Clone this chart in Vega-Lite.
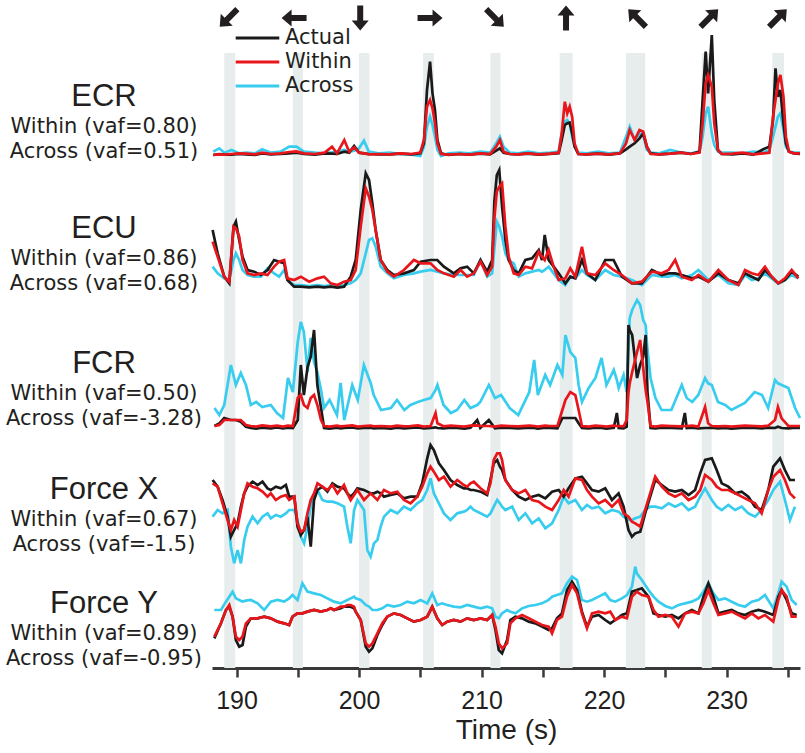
{
"$schema": "https://vega.github.io/schema/vega-lite/v6.json",
"autosize": {"type": "pad"},
"padding": {"left": 5, "top": 0, "right": 4, "bottom": 4},
"background": "white",
"config": {
  "view": {"stroke": null},
  "font": "Liberation Sans",
  "title": {"fontSize": 31, "fontWeight": "normal", "color": "#231f20", "font": "Liberation Sans", "subtitleFont": "DejaVu Sans", "subtitleFontSize": 21, "subtitleColor": "#231f20", "subtitleLineHeight": 25, "subtitlePadding": 0, "orient": "top", "anchor": "start", "frame": "group", "align": "center", "baseline": "top", "offset": 0, "dx": -108},
  "legend": {"orient": "none", "legendX": 22, "legendY": 26, "symbolType": "stroke", "symbolSize": 1900, "symbolStrokeWidth": 3, "labelFontSize": 21, "labelFont": "DejaVu Sans", "labelColor": "#231f20", "labelOffset": 4, "clipHeight": 24, "rowPadding": 0, "padding": 0}
},
"datasets": {
  "arrows": [
    {"t": 189.35, "dir": 225}, {"t": 194.7, "dir": 270}, {"t": 200.1, "dir": 180}, {"t": 205.8, "dir": 90}, {"t": 211.1, "dir": 135},
    {"t": 216.9, "dir": 0}, {"t": 222.7, "dir": 315}, {"t": 228.6, "dir": 45}, {"t": 234.2, "dir": 45}
  ],
  "bands": [
    {"t": 189.0, "t2": 189.9}, {"t": 194.6, "t2": 195.42}, {"t": 200.0, "t2": 200.85}, {"t": 205.24, "t2": 206.11}, {"t": 210.73, "t2": 211.55},
    {"t": 216.38, "t2": 217.44}, {"t": 221.78, "t2": 223.36}, {"t": 227.98, "t2": 228.79}, {"t": 233.74, "t2": 234.69}
  ],
  "sig": [
{"p":"ECR","t":188.1,"a":0.05,"w":0.05,"c":0.15},{"p":"ECR","t":188.6,"a":0.08,"w":0.07,"c":0.25},{"p":"ECR","t":189.0,"a":0.06,"w":0.06,"c":0.12},{"p":"ECR","t":189.6,"a":0.06,"w":0.08,"c":0.2},{"p":"ECR","t":190.2,"a":0.08,"w":0.1,"c":0.1},{"p":"ECR","t":190.8,"a":0.07,"w":0.09,"c":0.12},{"p":"ECR","t":191.5,"a":0.05,"w":0.07,"c":0.1},{"p":"ECR","t":192.1,"a":0.1,"w":0.12,"c":0.22},{"p":"ECR","t":192.8,"a":0.07,"w":0.08,"c":0.12},{"p":"ECR","t":193.6,"a":0.08,"w":0.1,"c":0.15},{"p":"ECR","t":194.3,"a":0.1,"w":0.14,"c":0.3},{"p":"ECR","t":194.9,"a":0.12,"w":0.16,"c":0.3},{"p":"ECR","t":195.5,"a":0.08,"w":0.1,"c":0.15},{"p":"ECR","t":196.4,"a":0.06,"w":0.08,"c":0.12},{"p":"ECR","t":197.2,"a":0.1,"w":0.12,"c":0.1},{"p":"ECR","t":197.8,"a":0.09,"w":0.3,"c":0.13},{"p":"ECR","t":198.2,"a":0.08,"w":0.1,"c":0.15},{"p":"ECR","t":198.8,"a":0.15,"w":0.5,"c":0.2},{"p":"ECR","t":199.2,"a":0.12,"w":0.15,"c":0.15},{"p":"ECR","t":199.6,"a":0.32,"w":0.28,"c":0.18},{"p":"ECR","t":200.0,"a":0.12,"w":0.12,"c":0.25},{"p":"ECR","t":200.4,"a":0.1,"w":0.1,"c":0.48},{"p":"ECR","t":200.8,"a":0.08,"w":0.07,"c":0.15},{"p":"ECR","t":201.6,"a":0.07,"w":0.08,"c":0.1},{"p":"ECR","t":202.5,"a":0.07,"w":0.07,"c":0.12},{"p":"ECR","t":203.4,"a":0.09,"w":0.1,"c":0.08},{"p":"ECR","t":204.3,"a":0.07,"w":0.08,"c":0.06},{"p":"ECR","t":205.0,"a":0.1,"w":0.12,"c":0.02},{"p":"ECR","t":205.3,"a":0.4,"w":0.5,"c":0.3},{"p":"ECR","t":205.55,"a":2.0,"w":1.5,"c":0.9},{"p":"ECR","t":205.8,"a":2.85,"w":1.7,"c":1.2},{"p":"ECR","t":206.0,"a":1.9,"w":1.45,"c":0.95},{"p":"ECR","t":206.2,"a":1.4,"w":1.0,"c":0.6},{"p":"ECR","t":206.4,"a":0.5,"w":0.4,"c":0.2},{"p":"ECR","t":206.7,"a":0.1,"w":0.08,"c":0.02},{"p":"ECR","t":207.3,"a":0.05,"w":0.06,"c":0.1},{"p":"ECR","t":208.2,"a":0.08,"w":0.08,"c":0.12},{"p":"ECR","t":209.0,"a":0.06,"w":0.06,"c":0.1},{"p":"ECR","t":209.9,"a":0.09,"w":0.1,"c":0.15},{"p":"ECR","t":210.7,"a":0.07,"w":0.08,"c":0.12},{"p":"ECR","t":211.2,"a":0.18,"w":0.3,"c":0.4},{"p":"ECR","t":211.5,"a":0.25,"w":0.5,"c":0.6},{"p":"ECR","t":211.8,"a":0.12,"w":0.15,"c":0.3},{"p":"ECR","t":212.3,"a":0.08,"w":0.08,"c":0.12},{"p":"ECR","t":213.0,"a":0.07,"w":0.07,"c":0.1},{"p":"ECR","t":213.8,"a":0.09,"w":0.1,"c":0.15},{"p":"ECR","t":214.7,"a":0.06,"w":0.07,"c":0.1},{"p":"ECR","t":215.6,"a":0.08,"w":0.09,"c":0.12},{"p":"ECR","t":216.3,"a":0.1,"w":0.12,"c":0.15},{"p":"ECR","t":216.55,"a":0.5,"w":0.7,"c":0.7},{"p":"ECR","t":216.8,"a":0.95,"w":1.65,"c":1.05},{"p":"ECR","t":217.0,"a":1.0,"w":1.3,"c":1.1},{"p":"ECR","t":217.2,"a":1.02,"w":1.5,"c":1.0},{"p":"ECR","t":217.4,"a":0.7,"w":1.2,"c":0.6},{"p":"ECR","t":217.6,"a":0.3,"w":0.4,"c":0.3},{"p":"ECR","t":217.9,"a":0.08,"w":0.08,"c":0.12},{"p":"ECR","t":218.6,"a":0.07,"w":0.07,"c":0.1},{"p":"ECR","t":219.5,"a":0.09,"w":0.09,"c":0.15},{"p":"ECR","t":220.4,"a":0.06,"w":0.07,"c":0.1},{"p":"ECR","t":221.3,"a":0.1,"w":0.1,"c":0.12},{"p":"ECR","t":221.8,"a":0.22,"w":0.4,"c":0.6},{"p":"ECR","t":222.1,"a":0.3,"w":0.8,"c":0.9},{"p":"ECR","t":222.5,"a":0.4,"w":0.5,"c":0.5},{"p":"ECR","t":222.9,"a":0.55,"w":0.8,"c":0.7},{"p":"ECR","t":223.2,"a":0.7,"w":0.75,"c":0.65},{"p":"ECR","t":223.5,"a":0.3,"w":0.3,"c":0.2},{"p":"ECR","t":223.8,"a":0.1,"w":0.08,"c":0.12},{"p":"ECR","t":224.5,"a":0.07,"w":0.07,"c":0.1},{"p":"ECR","t":225.4,"a":0.09,"w":0.09,"c":0.2},{"p":"ECR","t":226.3,"a":0.12,"w":0.12,"c":0.12},{"p":"ECR","t":227.1,"a":0.08,"w":0.08,"c":0.1},{"p":"ECR","t":227.8,"a":0.15,"w":0.12,"c":0.15},{"p":"ECR","t":228.05,"a":1.7,"w":1.0,"c":0.6},{"p":"ECR","t":228.3,"a":3.15,"w":2.2,"c":1.3},{"p":"ECR","t":228.5,"a":1.9,"w":2.45,"c":1.5},{"p":"ECR","t":228.8,"a":3.65,"w":2.1,"c":0.7},{"p":"ECR","t":229.0,"a":1.7,"w":1.0,"c":0.35},{"p":"ECR","t":229.3,"a":0.2,"w":0.2,"c":0.15},{"p":"ECR","t":229.6,"a":0.08,"w":0.08,"c":0.12},{"p":"ECR","t":230.5,"a":0.07,"w":0.09,"c":0.12},{"p":"ECR","t":231.3,"a":0.1,"w":0.12,"c":0.1},{"p":"ECR","t":232.2,"a":0.06,"w":0.07,"c":0.15},{"p":"ECR","t":233.0,"a":0.22,"w":0.1,"c":0.12},{"p":"ECR","t":233.5,"a":0.3,"w":0.12,"c":0.2},{"p":"ECR","t":233.8,"a":1.1,"w":1.2,"c":0.6},{"p":"ECR","t":234.0,"a":2.65,"w":1.7,"c":0.9},{"p":"ECR","t":234.2,"a":1.8,"w":2.2,"c":1.2},{"p":"ECR","t":234.4,"a":2.0,"w":2.45,"c":1.3},{"p":"ECR","t":234.65,"a":1.0,"w":1.8,"c":0.8},{"p":"ECR","t":234.85,"a":0.4,"w":0.6,"c":0.3},{"p":"ECR","t":235.1,"a":0.15,"w":0.15,"c":0.15},{"p":"ECR","t":235.5,"a":0.1,"w":0.1,"c":0.12},{"p":"ECR","t":236.0,"a":0.08,"w":0.1,"c":0.12},
{"p":"ECU","t":188.05,"a":1.75,"w":1.4,"c":0.65},{"p":"ECU","t":188.46,"a":1.05,"w":0.95,"c":0.45},{"p":"ECU","t":189.0,"a":0.35,"w":0.35,"c":0.3},{"p":"ECU","t":189.41,"a":0.15,"w":0.2,"c":0.25},{"p":"ECU","t":189.76,"a":1.85,"w":1.85,"c":0.85},{"p":"ECU","t":189.95,"a":2.0,"w":1.8,"c":1.05},{"p":"ECU","t":190.22,"a":1.45,"w":1.55,"c":0.85},{"p":"ECU","t":190.49,"a":0.95,"w":0.85,"c":0.55},{"p":"ECU","t":190.9,"a":0.55,"w":0.45,"c":0.4},{"p":"ECU","t":191.44,"a":0.5,"w":0.4,"c":0.35},{"p":"ECU","t":191.99,"a":0.4,"w":0.45,"c":0.35},{"p":"ECU","t":192.53,"a":0.55,"w":0.4,"c":0.6},{"p":"ECU","t":193.07,"a":0.85,"w":0.65,"c":0.45},{"p":"ECU","t":193.48,"a":0.8,"w":0.8,"c":0.35},{"p":"ECU","t":193.89,"a":0.75,"w":0.85,"c":0.55},{"p":"ECU","t":194.16,"a":0.25,"w":0.3,"c":0.25},{"p":"ECU","t":194.7,"a":0.05,"w":0.25,"c":0.1},{"p":"ECU","t":195.25,"a":0.05,"w":0.35,"c":0.1},{"p":"ECU","t":195.93,"a":0.03,"w":0.2,"c":0.07},{"p":"ECU","t":196.61,"a":0.05,"w":0.3,"c":0.1},{"p":"ECU","t":197.15,"a":0.03,"w":0.35,"c":0.07},{"p":"ECU","t":197.69,"a":0.05,"w":0.15,"c":0.09},{"p":"ECU","t":198.24,"a":0.02,"w":0.1,"c":0.07},{"p":"ECU","t":198.78,"a":0.05,"w":0.2,"c":0.1},{"p":"ECU","t":199.32,"a":0.35,"w":0.25,"c":0.15},{"p":"ECU","t":199.73,"a":0.85,"w":0.55,"c":0.25},{"p":"ECU","t":200.14,"a":2.35,"w":1.85,"c":0.45},{"p":"ECU","t":200.55,"a":3.45,"w":3.0,"c":1.05},{"p":"ECU","t":200.82,"a":3.25,"w":2.75,"c":1.45},{"p":"ECU","t":201.09,"a":2.55,"w":2.35,"c":1.5},{"p":"ECU","t":201.36,"a":1.75,"w":1.75,"c":1.25},{"p":"ECU","t":201.77,"a":0.85,"w":0.85,"c":0.65},{"p":"ECU","t":202.31,"a":0.55,"w":0.5,"c":0.45},{"p":"ECU","t":202.85,"a":0.4,"w":0.35,"c":0.3},{"p":"ECU","t":203.67,"a":0.45,"w":0.55,"c":0.4},{"p":"ECU","t":204.48,"a":0.55,"w":0.85,"c":0.45},{"p":"ECU","t":205.03,"a":0.8,"w":0.75,"c":0.5},{"p":"ECU","t":205.84,"a":0.85,"w":0.75,"c":0.55},{"p":"ECU","t":206.39,"a":0.85,"w":0.55,"c":0.5},{"p":"ECU","t":206.93,"a":0.65,"w":0.45,"c":0.45},{"p":"ECU","t":207.74,"a":0.45,"w":0.35,"c":0.4},{"p":"ECU","t":208.29,"a":0.6,"w":0.55,"c":0.4},{"p":"ECU","t":208.83,"a":0.65,"w":0.35,"c":0.4},{"p":"ECU","t":209.37,"a":0.45,"w":0.45,"c":0.4},{"p":"ECU","t":209.92,"a":0.85,"w":0.8,"c":0.85},{"p":"ECU","t":210.46,"a":0.5,"w":0.4,"c":0.35},{"p":"ECU","t":210.87,"a":0.85,"w":0.65,"c":0.45},{"p":"ECU","t":211.05,"a":2.6,"w":2.1,"c":1.2},{"p":"ECU","t":211.25,"a":3.4,"w":2.9,"c":2.0},{"p":"ECU","t":211.45,"a":3.55,"w":3.05,"c":1.85},{"p":"ECU","t":211.68,"a":2.45,"w":3.15,"c":1.55},{"p":"ECU","t":211.95,"a":1.45,"w":1.85,"c":1.05},{"p":"ECU","t":212.22,"a":0.85,"w":0.95,"c":0.85},{"p":"ECU","t":212.63,"a":0.55,"w":0.45,"c":0.75},{"p":"ECU","t":213.04,"a":0.45,"w":0.4,"c":0.35},{"p":"ECU","t":213.58,"a":0.85,"w":0.65,"c":0.45},{"p":"ECU","t":214.13,"a":0.9,"w":0.6,"c":0.5},{"p":"ECU","t":214.67,"a":1.15,"w":1.1,"c":0.55},{"p":"ECU","t":214.94,"a":0.85,"w":0.95,"c":0.5},{"p":"ECU","t":215.16,"a":1.6,"w":0.85,"c":0.55},{"p":"ECU","t":215.48,"a":0.85,"w":1.15,"c":0.65},{"p":"ECU","t":215.89,"a":0.65,"w":0.65,"c":0.45},{"p":"ECU","t":216.3,"a":0.45,"w":0.25,"c":0.25},{"p":"ECU","t":216.84,"a":0.15,"w":0.3,"c":0.1},{"p":"ECU","t":217.25,"a":0.35,"w":0.6,"c":0.35},{"p":"ECU","t":217.66,"a":0.3,"w":0.35,"c":0.3},{"p":"ECU","t":218.2,"a":0.85,"w":1.25,"c":0.55},{"p":"ECU","t":218.61,"a":0.45,"w":0.45,"c":0.4},{"p":"ECU","t":219.29,"a":0.25,"w":0.4,"c":0.25},{"p":"ECU","t":220.1,"a":0.85,"w":0.75,"c":0.55},{"p":"ECU","t":220.78,"a":0.85,"w":0.55,"c":0.4},{"p":"ECU","t":221.46,"a":0.35,"w":0.4,"c":0.35},{"p":"ECU","t":222.28,"a":0.15,"w":0.15,"c":0.25},{"p":"ECU","t":223.09,"a":0.15,"w":0.2,"c":0.1},{"p":"ECU","t":223.91,"a":0.55,"w":0.5,"c":0.4},{"p":"ECU","t":224.72,"a":0.4,"w":0.45,"c":0.35},{"p":"ECU","t":225.27,"a":0.45,"w":0.55,"c":0.35},{"p":"ECU","t":225.81,"a":0.45,"w":0.85,"c":0.4},{"p":"ECU","t":226.35,"a":0.4,"w":0.35,"c":0.3},{"p":"ECU","t":227.17,"a":0.3,"w":0.25,"c":0.4},{"p":"ECU","t":227.71,"a":0.35,"w":0.4,"c":0.55},{"p":"ECU","t":228.52,"a":0.2,"w":0.2,"c":0.25},{"p":"ECU","t":229.34,"a":0.45,"w":0.55,"c":0.4},{"p":"ECU","t":230.15,"a":0.25,"w":0.25,"c":0.15},{"p":"ECU","t":230.97,"a":0.15,"w":0.1,"c":0.1},{"p":"ECU","t":231.51,"a":0.45,"w":0.55,"c":0.4},{"p":"ECU","t":232.06,"a":0.35,"w":0.45,"c":0.25},{"p":"ECU","t":232.6,"a":0.25,"w":0.4,"c":0.3},{"p":"ECU","t":233.14,"a":0.55,"w":0.65,"c":0.45},{"p":"ECU","t":233.69,"a":0.35,"w":0.35,"c":0.3},{"p":"ECU","t":234.23,"a":0.15,"w":0.15,"c":0.15},{"p":"ECU","t":234.77,"a":0.25,"w":0.3,"c":0.25},{"p":"ECU","t":235.32,"a":0.5,"w":0.55,"c":0.4},{"p":"ECU","t":235.86,"a":0.35,"w":0.3,"c":0.3},
{"p":"FCR","t":188.2,"a":0.12,"w":0.12,"c":0.66},{"p":"FCR","t":188.6,"a":0.2,"w":0.15,"c":0.45},{"p":"FCR","t":189.0,"a":0.36,"w":0.3,"c":0.75},{"p":"FCR","t":189.54,"a":0.3,"w":0.3,"c":1.95},{"p":"FCR","t":189.95,"a":0.3,"w":0.3,"c":1.35},{"p":"FCR","t":190.35,"a":0.25,"w":0.3,"c":1.71},{"p":"FCR","t":190.77,"a":0.1,"w":0.15,"c":1.35},{"p":"FCR","t":191.17,"a":0.06,"w":0.12,"c":0.75},{"p":"FCR","t":191.6,"a":0.04,"w":0.1,"c":0.84},{"p":"FCR","t":192.1,"a":0.07,"w":0.14,"c":0.69},{"p":"FCR","t":192.8,"a":0.05,"w":0.11,"c":0.75},{"p":"FCR","t":193.3,"a":0.08,"w":0.13,"c":0.51},{"p":"FCR","t":193.8,"a":0.05,"w":0.1,"c":0.36},{"p":"FCR","t":194.2,"a":0.07,"w":0.13,"c":1.56},{"p":"FCR","t":194.6,"a":0.06,"w":0.12,"c":1.14},{"p":"FCR","t":195.0,"a":0.3,"w":0.96,"c":2.64},{"p":"FCR","t":195.25,"a":1.95,"w":1.05,"c":3.24},{"p":"FCR","t":195.5,"a":1.05,"w":0.75,"c":2.94},{"p":"FCR","t":195.8,"a":1.89,"w":0.66,"c":1.74},{"p":"FCR","t":196.06,"a":2.2,"w":0.96,"c":2.76},{"p":"FCR","t":196.33,"a":3.0,"w":1.05,"c":2.04},{"p":"FCR","t":196.6,"a":1.35,"w":0.75,"c":1.74},{"p":"FCR","t":196.9,"a":0.66,"w":0.3,"c":1.2},{"p":"FCR","t":197.15,"a":0.06,"w":0.12,"c":0.66},{"p":"FCR","t":197.6,"a":0.04,"w":0.1,"c":0.9},{"p":"FCR","t":198.2,"a":0.07,"w":0.13,"c":0.45},{"p":"FCR","t":198.5,"a":0.05,"w":0.11,"c":1.41},{"p":"FCR","t":198.8,"a":0.06,"w":0.12,"c":0.3},{"p":"FCR","t":199.45,"a":0.08,"w":0.14,"c":1.35},{"p":"FCR","t":199.9,"a":0.05,"w":0.1,"c":0.9},{"p":"FCR","t":200.4,"a":0.06,"w":0.12,"c":1.95},{"p":"FCR","t":200.95,"a":0.07,"w":0.13,"c":1.41},{"p":"FCR","t":201.2,"a":0.05,"w":0.11,"c":1.05},{"p":"FCR","t":201.8,"a":0.06,"w":0.12,"c":0.6},{"p":"FCR","t":202.6,"a":0.04,"w":0.1,"c":0.66},{"p":"FCR","t":203.1,"a":0.07,"w":0.13,"c":0.9},{"p":"FCR","t":203.7,"a":0.05,"w":0.11,"c":0.6},{"p":"FCR","t":204.2,"a":0.06,"w":0.12,"c":0.75},{"p":"FCR","t":204.8,"a":0.08,"w":0.14,"c":0.84},{"p":"FCR","t":205.3,"a":0.05,"w":0.1,"c":0.9},{"p":"FCR","t":205.85,"a":0.06,"w":0.12,"c":0.96},{"p":"FCR","t":206.25,"a":0.08,"w":0.51,"c":1.2},{"p":"FCR","t":206.4,"a":0.06,"w":0.2,"c":1.35},{"p":"FCR","t":206.9,"a":0.05,"w":0.11,"c":0.75},{"p":"FCR","t":207.5,"a":0.07,"w":0.13,"c":0.51},{"p":"FCR","t":208.0,"a":0.06,"w":0.12,"c":0.6},{"p":"FCR","t":208.6,"a":0.04,"w":0.1,"c":0.9},{"p":"FCR","t":209.1,"a":0.07,"w":0.13,"c":0.66},{"p":"FCR","t":209.65,"a":0.3,"w":0.14,"c":0.75},{"p":"FCR","t":209.9,"a":0.06,"w":0.12,"c":0.84},{"p":"FCR","t":210.6,"a":0.3,"w":0.12,"c":1.35},{"p":"FCR","t":211.1,"a":0.05,"w":0.1,"c":0.96},{"p":"FCR","t":211.6,"a":0.07,"w":0.13,"c":1.05},{"p":"FCR","t":212.3,"a":0.06,"w":0.12,"c":0.66},{"p":"FCR","t":213.0,"a":0.05,"w":0.11,"c":0.45},{"p":"FCR","t":213.9,"a":0.07,"w":0.13,"c":1.14},{"p":"FCR","t":214.3,"a":0.06,"w":0.12,"c":2.1},{"p":"FCR","t":214.6,"a":0.04,"w":0.1,"c":1.05},{"p":"FCR","t":215.2,"a":0.07,"w":0.13,"c":1.65},{"p":"FCR","t":215.6,"a":0.06,"w":0.12,"c":1.35},{"p":"FCR","t":216.2,"a":0.05,"w":0.12,"c":1.95},{"p":"FCR","t":216.6,"a":0.36,"w":0.6,"c":1.65},{"p":"FCR","t":216.85,"a":0.36,"w":0.9,"c":2.85},{"p":"FCR","t":217.25,"a":0.36,"w":1.14,"c":2.34},{"p":"FCR","t":217.66,"a":0.36,"w":1.05,"c":2.16},{"p":"FCR","t":217.93,"a":0.2,"w":0.6,"c":1.35},{"p":"FCR","t":218.2,"a":0.06,"w":0.12,"c":0.84},{"p":"FCR","t":218.75,"a":0.05,"w":0.1,"c":1.26},{"p":"FCR","t":219.3,"a":0.07,"w":0.13,"c":1.56},{"p":"FCR","t":219.8,"a":0.06,"w":0.12,"c":2.16},{"p":"FCR","t":220.2,"a":0.04,"w":0.1,"c":1.35},{"p":"FCR","t":220.8,"a":0.07,"w":0.13,"c":1.8},{"p":"FCR","t":221.05,"a":0.51,"w":0.12,"c":1.5},{"p":"FCR","t":221.2,"a":0.06,"w":0.12,"c":1.26},{"p":"FCR","t":221.6,"a":0.05,"w":0.11,"c":1.65},{"p":"FCR","t":221.85,"a":0.1,"w":0.3,"c":1.14},{"p":"FCR","t":222.0,"a":3.15,"w":1.14,"c":2.5},{"p":"FCR","t":222.1,"a":3.0,"w":1.4,"c":3.36},{"p":"FCR","t":222.3,"a":2.85,"w":1.74,"c":3.6},{"p":"FCR","t":222.7,"a":1.56,"w":2.34,"c":3.9},{"p":"FCR","t":222.95,"a":1.95,"w":2.7,"c":3.75},{"p":"FCR","t":223.2,"a":2.2,"w":1.86,"c":3.3},{"p":"FCR","t":223.4,"a":2.85,"w":1.2,"c":3.15},{"p":"FCR","t":223.55,"a":1.14,"w":0.84,"c":2.4},{"p":"FCR","t":223.8,"a":0.06,"w":0.12,"c":1.56},{"p":"FCR","t":224.2,"a":0.05,"w":0.1,"c":0.96},{"p":"FCR","t":224.7,"a":0.07,"w":0.13,"c":0.6},{"p":"FCR","t":225.5,"a":0.06,"w":0.12,"c":0.6},{"p":"FCR","t":226.35,"a":0.05,"w":0.11,"c":1.35},{"p":"FCR","t":226.6,"a":0.51,"w":0.12,"c":1.1},{"p":"FCR","t":226.75,"a":0.06,"w":0.12,"c":0.96},{"p":"FCR","t":227.2,"a":0.07,"w":0.13,"c":0.84},{"p":"FCR","t":227.7,"a":0.05,"w":0.1,"c":1.05},{"p":"FCR","t":228.25,"a":0.06,"w":0.69,"c":1.56},{"p":"FCR","t":228.5,"a":0.06,"w":0.2,"c":1.4},{"p":"FCR","t":228.8,"a":0.07,"w":0.12,"c":1.35},{"p":"FCR","t":229.3,"a":0.05,"w":0.11,"c":0.84},{"p":"FCR","t":229.9,"a":0.06,"w":0.12,"c":0.75},{"p":"FCR","t":230.4,"a":0.04,"w":0.1,"c":0.6},{"p":"FCR","t":231.5,"a":0.07,"w":0.13,"c":0.81},{"p":"FCR","t":232.3,"a":0.06,"w":0.12,"c":1.14},{"p":"FCR","t":232.9,"a":0.05,"w":0.11,"c":1.05},{"p":"FCR","t":233.4,"a":0.07,"w":0.13,"c":0.66},{"p":"FCR","t":233.96,"a":0.06,"w":0.3,"c":1.5},{"p":"FCR","t":234.2,"a":0.1,"w":0.69,"c":1.4},{"p":"FCR","t":234.5,"a":0.06,"w":0.35,"c":1.35},{"p":"FCR","t":235.05,"a":0.05,"w":0.12,"c":1.26},{"p":"FCR","t":235.6,"a":0.07,"w":0.12,"c":0.66},{"p":"FCR","t":236.0,"a":0.06,"w":0.12,"c":0.36},
{"p":"FX","t":188.05,"a":1.2,"w":1.1,"c":0.1},{"p":"FX","t":188.46,"a":1.0,"w":1.0,"c":0.3},{"p":"FX","t":188.86,"a":0.6,"w":0.5,"c":0.2},{"p":"FX","t":189.27,"a":0.1,"w":0.0,"c":0.3},{"p":"FX","t":189.54,"a":-0.5,"w":-0.3,"c":-0.8},{"p":"FX","t":189.81,"a":-0.3,"w":0.0,"c":-1.3},{"p":"FX","t":190.09,"a":-0.1,"w":-0.2,"c":-0.9},{"p":"FX","t":190.36,"a":0.4,"w":0.3,"c":-1.3},{"p":"FX","t":190.63,"a":0.8,"w":0.8,"c":-0.6},{"p":"FX","t":190.9,"a":1.0,"w":1.1,"c":-0.2},{"p":"FX","t":191.31,"a":1.15,"w":1.0,"c":0.1},{"p":"FX","t":191.72,"a":1.05,"w":0.95,"c":-0.1},{"p":"FX","t":192.12,"a":1.15,"w":0.85,"c":0.1},{"p":"FX","t":192.53,"a":0.95,"w":0.7,"c":0.2},{"p":"FX","t":192.8,"a":0.9,"w":0.8,"c":0.05},{"p":"FX","t":193.21,"a":1.0,"w":0.6,"c":0.15},{"p":"FX","t":193.62,"a":0.95,"w":0.7,"c":0.1},{"p":"FX","t":194.03,"a":1.05,"w":0.75,"c":0.2},{"p":"FX","t":194.3,"a":0.7,"w":0.6,"c":0.3},{"p":"FX","t":194.72,"a":0.7,"w":0.7,"c":0.3},{"p":"FX","t":194.98,"a":-0.2,"w":-0.1,"c":0.0},{"p":"FX","t":195.25,"a":-0.45,"w":-0.35,"c":-0.5},{"p":"FX","t":195.52,"a":-0.3,"w":-0.3,"c":-0.7},{"p":"FX","t":195.79,"a":0.1,"w":0.2,"c":-0.2},{"p":"FX","t":196.06,"a":-0.8,"w":0.6,"c":0.4},{"p":"FX","t":196.33,"a":0.6,"w":0.8,"c":0.7},{"p":"FX","t":196.61,"a":0.9,"w":1.1,"c":0.9},{"p":"FX","t":197.01,"a":1.0,"w":1.0,"c":0.6},{"p":"FX","t":197.42,"a":0.85,"w":0.9,"c":0.55},{"p":"FX","t":197.83,"a":1.1,"w":1.05,"c":0.55},{"p":"FX","t":198.24,"a":1.0,"w":0.8,"c":0.5},{"p":"FX","t":198.78,"a":0.95,"w":1.05,"c":0.4},{"p":"FX","t":199.05,"a":0.8,"w":0.8,"c":-0.2},{"p":"FX","t":199.32,"a":0.7,"w":0.6,"c":-0.7},{"p":"FX","t":199.6,"a":0.8,"w":0.75,"c":0.3},{"p":"FX","t":199.87,"a":0.95,"w":0.9,"c":0.6},{"p":"FX","t":200.41,"a":0.9,"w":0.6,"c":0.3},{"p":"FX","t":200.68,"a":0.85,"w":0.7,"c":-0.9},{"p":"FX","t":200.95,"a":0.8,"w":0.8,"c":-1.1},{"p":"FX","t":201.22,"a":0.8,"w":0.7,"c":-0.7},{"p":"FX","t":201.5,"a":0.85,"w":0.6,"c":-0.6},{"p":"FX","t":201.77,"a":0.8,"w":0.75,"c":-0.2},{"p":"FX","t":202.04,"a":0.7,"w":0.9,"c":0.1},{"p":"FX","t":202.58,"a":0.75,"w":0.8,"c":0.3},{"p":"FX","t":203.13,"a":0.8,"w":0.85,"c":0.2},{"p":"FX","t":203.67,"a":0.65,"w":0.6,"c":0.4},{"p":"FX","t":204.21,"a":0.7,"w":0.5,"c":0.3},{"p":"FX","t":204.76,"a":0.7,"w":0.7,"c":0.5},{"p":"FX","t":205.16,"a":1.1,"w":1.0,"c":0.6},{"p":"FX","t":205.57,"a":1.85,"w":1.4,"c":0.9},{"p":"FX","t":205.84,"a":2.25,"w":1.6,"c":1.25},{"p":"FX","t":206.11,"a":2.1,"w":1.45,"c":0.8},{"p":"FX","t":206.52,"a":1.7,"w":1.2,"c":0.5},{"p":"FX","t":206.93,"a":1.5,"w":1.3,"c":0.2},{"p":"FX","t":207.47,"a":1.2,"w":1.0,"c":0.0},{"p":"FX","t":208.02,"a":1.05,"w":1.2,"c":0.2},{"p":"FX","t":208.56,"a":0.95,"w":1.05,"c":0.25},{"p":"FX","t":208.83,"a":0.95,"w":1.0,"c":0.3},{"p":"FX","t":209.1,"a":0.9,"w":1.1,"c":0.4},{"p":"FX","t":209.37,"a":0.9,"w":1.15,"c":0.3},{"p":"FX","t":209.92,"a":0.85,"w":0.95,"c":0.2},{"p":"FX","t":210.46,"a":0.75,"w":0.8,"c":0.1},{"p":"FX","t":210.73,"a":1.2,"w":1.1,"c":0.2},{"p":"FX","t":211.0,"a":1.7,"w":1.8,"c":0.4},{"p":"FX","t":211.28,"a":1.8,"w":2.0,"c":0.6},{"p":"FX","t":211.5,"a":1.6,"w":2.0,"c":0.5},{"p":"FX","t":211.68,"a":1.5,"w":1.8,"c":0.4},{"p":"FX","t":211.95,"a":1.2,"w":1.2,"c":0.3},{"p":"FX","t":212.5,"a":0.9,"w":0.9,"c":0.4},{"p":"FX","t":213.04,"a":0.7,"w":0.8,"c":0.0},{"p":"FX","t":213.58,"a":0.6,"w":0.9,"c":0.2},{"p":"FX","t":214.13,"a":0.7,"w":0.6,"c":-0.1},{"p":"FX","t":214.67,"a":0.75,"w":0.55,"c":0.05},{"p":"FX","t":215.21,"a":0.65,"w":0.4,"c":-0.25},{"p":"FX","t":215.76,"a":0.85,"w":0.3,"c":-0.1},{"p":"FX","t":216.3,"a":0.9,"w":0.6,"c":0.3},{"p":"FX","t":216.71,"a":0.7,"w":0.9,"c":0.7},{"p":"FX","t":217.11,"a":0.95,"w":0.7,"c":0.5},{"p":"FX","t":217.66,"a":1.25,"w":1.25,"c":0.6},{"p":"FX","t":218.2,"a":1.3,"w":1.2,"c":0.3},{"p":"FX","t":218.61,"a":1.1,"w":0.9,"c":0.45},{"p":"FX","t":219.02,"a":0.9,"w":0.7,"c":0.35},{"p":"FX","t":219.56,"a":0.85,"w":0.5,"c":0.4},{"p":"FX","t":220.1,"a":0.95,"w":0.6,"c":0.2},{"p":"FX","t":220.65,"a":0.6,"w":0.4,"c":0.3},{"p":"FX","t":221.19,"a":0.8,"w":0.6,"c":0.25},{"p":"FX","t":221.6,"a":0.4,"w":0.2,"c":0.1},{"p":"FX","t":222.0,"a":-0.3,"w":0.1,"c":0.0},{"p":"FX","t":222.28,"a":-0.5,"w":-0.05,"c":0.0},{"p":"FX","t":222.55,"a":-0.4,"w":-0.1,"c":0.05},{"p":"FX","t":222.96,"a":-0.35,"w":-0.2,"c":0.1},{"p":"FX","t":223.36,"a":0.2,"w":0.3,"c":0.3},{"p":"FX","t":223.77,"a":0.7,"w":0.8,"c":0.4},{"p":"FX","t":224.18,"a":1.2,"w":1.3,"c":0.4},{"p":"FX","t":224.72,"a":1.05,"w":1.0,"c":0.35},{"p":"FX","t":225.27,"a":0.9,"w":0.8,"c":0.5},{"p":"FX","t":225.81,"a":0.85,"w":0.7,"c":0.4},{"p":"FX","t":226.35,"a":0.9,"w":0.8,"c":0.5},{"p":"FX","t":226.9,"a":0.75,"w":0.6,"c":0.3},{"p":"FX","t":227.44,"a":0.9,"w":0.7,"c":0.4},{"p":"FX","t":227.85,"a":1.4,"w":0.9,"c":0.7},{"p":"FX","t":228.25,"a":1.8,"w":1.35,"c":0.95},{"p":"FX","t":228.8,"a":1.85,"w":1.2,"c":0.6},{"p":"FX","t":229.2,"a":1.5,"w":1.0,"c":0.4},{"p":"FX","t":229.61,"a":1.1,"w":0.9,"c":0.3},{"p":"FX","t":230.15,"a":1.0,"w":0.9,"c":0.45},{"p":"FX","t":230.7,"a":0.8,"w":0.8,"c":0.3},{"p":"FX","t":231.24,"a":0.85,"w":0.7,"c":0.4},{"p":"FX","t":231.78,"a":0.7,"w":0.6,"c":0.2},{"p":"FX","t":232.33,"a":0.4,"w":0.5,"c":0.1},{"p":"FX","t":232.87,"a":0.3,"w":0.2,"c":0.3},{"p":"FX","t":233.41,"a":0.9,"w":0.9,"c":0.6},{"p":"FX","t":233.82,"a":1.6,"w":1.3,"c":0.9},{"p":"FX","t":234.37,"a":1.85,"w":1.5,"c":1.15},{"p":"FX","t":234.77,"a":1.5,"w":1.2,"c":0.6},{"p":"FX","t":235.18,"a":1.2,"w":0.8,"c":0.0},{"p":"FX","t":235.59,"a":1.2,"w":0.65,"c":0.4},
{"p":"FY","t":188.19,"a":-0.55,"w":-0.5,"c":0.3},{"p":"FY","t":188.73,"a":-0.1,"w":-0.1,"c":0.3},{"p":"FY","t":189.14,"a":0.3,"w":0.3,"c":0.55},{"p":"FY","t":189.41,"a":0.4,"w":0.45,"c":0.7},{"p":"FY","t":189.68,"a":0.1,"w":0.1,"c":0.85},{"p":"FY","t":189.95,"a":-0.6,"w":-0.5,"c":0.65},{"p":"FY","t":190.22,"a":-0.8,"w":-0.6,"c":0.6},{"p":"FY","t":190.49,"a":-0.75,"w":-0.5,"c":0.55},{"p":"FY","t":190.77,"a":-0.2,"w":-0.1,"c":0.58},{"p":"FY","t":191.17,"a":0.05,"w":0.05,"c":0.6},{"p":"FY","t":191.72,"a":0.05,"w":0.05,"c":0.5},{"p":"FY","t":192.26,"a":0.1,"w":0.1,"c":0.3},{"p":"FY","t":192.8,"a":0.05,"w":0.05,"c":0.55},{"p":"FY","t":193.35,"a":-0.05,"w":-0.05,"c":0.6},{"p":"FY","t":193.89,"a":-0.1,"w":-0.1,"c":0.55},{"p":"FY","t":194.3,"a":-0.15,"w":-0.15,"c":0.65},{"p":"FY","t":194.57,"a":0.1,"w":0.1,"c":0.75},{"p":"FY","t":194.98,"a":0.2,"w":0.2,"c":0.6},{"p":"FY","t":195.38,"a":0.2,"w":0.2,"c":1.1},{"p":"FY","t":195.79,"a":0.25,"w":0.25,"c":0.85},{"p":"FY","t":196.33,"a":0.3,"w":0.3,"c":0.8},{"p":"FY","t":196.88,"a":0.25,"w":0.25,"c":0.75},{"p":"FY","t":197.42,"a":0.3,"w":0.3,"c":0.65},{"p":"FY","t":197.69,"a":0.35,"w":0.35,"c":0.6},{"p":"FY","t":197.96,"a":0.3,"w":0.3,"c":0.55},{"p":"FY","t":198.51,"a":0.35,"w":0.4,"c":0.5},{"p":"FY","t":198.78,"a":0.4,"w":0.4,"c":0.55},{"p":"FY","t":199.05,"a":0.4,"w":0.45,"c":0.6},{"p":"FY","t":199.32,"a":0.4,"w":0.45,"c":0.65},{"p":"FY","t":199.6,"a":0.35,"w":0.4,"c":0.7},{"p":"FY","t":199.73,"a":0.25,"w":0.25,"c":0.65},{"p":"FY","t":200.14,"a":0.0,"w":0.0,"c":0.6},{"p":"FY","t":200.55,"a":-0.8,"w":-0.7,"c":0.45},{"p":"FY","t":200.82,"a":-0.95,"w":-0.8,"c":0.4},{"p":"FY","t":201.09,"a":-0.85,"w":-0.7,"c":0.3},{"p":"FY","t":201.5,"a":-0.45,"w":-0.4,"c":0.3},{"p":"FY","t":201.9,"a":-0.15,"w":-0.1,"c":0.35},{"p":"FY","t":202.31,"a":0.1,"w":0.1,"c":0.45},{"p":"FY","t":202.85,"a":0.2,"w":0.2,"c":0.4},{"p":"FY","t":203.4,"a":0.15,"w":0.15,"c":0.45},{"p":"FY","t":203.94,"a":0.05,"w":0.05,"c":0.55},{"p":"FY","t":204.48,"a":-0.05,"w":-0.05,"c":0.5},{"p":"FY","t":205.03,"a":0.0,"w":0.0,"c":0.6},{"p":"FY","t":205.57,"a":0.1,"w":0.1,"c":0.5},{"p":"FY","t":205.98,"a":0.4,"w":0.4,"c":0.8},{"p":"FY","t":206.39,"a":0.05,"w":0.05,"c":0.45},{"p":"FY","t":206.79,"a":-0.15,"w":-0.15,"c":0.5},{"p":"FY","t":207.2,"a":-0.05,"w":-0.05,"c":0.45},{"p":"FY","t":207.74,"a":0.0,"w":0.0,"c":0.4},{"p":"FY","t":208.29,"a":-0.05,"w":-0.05,"c":0.38},{"p":"FY","t":208.83,"a":0.05,"w":0.05,"c":0.45},{"p":"FY","t":209.37,"a":0.0,"w":0.0,"c":0.4},{"p":"FY","t":209.92,"a":0.05,"w":0.05,"c":0.35},{"p":"FY","t":210.46,"a":0.0,"w":0.0,"c":0.4},{"p":"FY","t":210.87,"a":0.15,"w":0.15,"c":0.35},{"p":"FY","t":211.14,"a":-0.3,"w":-0.2,"c":0.1},{"p":"FY","t":211.41,"a":-0.9,"w":-0.7,"c":0.05},{"p":"FY","t":211.68,"a":-1.0,"w":-0.85,"c":0.2},{"p":"FY","t":212.09,"a":-0.6,"w":-0.7,"c":0.3},{"p":"FY","t":212.36,"a":0.0,"w":-0.1,"c":0.25},{"p":"FY","t":212.77,"a":0.1,"w":0.05,"c":0.2},{"p":"FY","t":213.31,"a":0.05,"w":0.15,"c":0.35},{"p":"FY","t":213.86,"a":-0.05,"w":0.05,"c":0.42},{"p":"FY","t":214.4,"a":-0.1,"w":-0.05,"c":0.45},{"p":"FY","t":214.94,"a":-0.2,"w":-0.15,"c":0.5},{"p":"FY","t":215.48,"a":-0.3,"w":-0.2,"c":0.6},{"p":"FY","t":215.76,"a":-0.25,"w":-0.4,"c":0.7},{"p":"FY","t":216.16,"a":0.05,"w":0.0,"c":0.75},{"p":"FY","t":216.57,"a":0.2,"w":0.1,"c":0.8},{"p":"FY","t":216.98,"a":0.9,"w":0.7,"c":1.1},{"p":"FY","t":217.39,"a":1.15,"w":1.05,"c":1.3},{"p":"FY","t":217.8,"a":0.9,"w":0.8,"c":1.2},{"p":"FY","t":218.2,"a":0.25,"w":0.2,"c":0.6},{"p":"FY","t":218.61,"a":-0.2,"w":-0.25,"c":0.55},{"p":"FY","t":219.02,"a":0.1,"w":0.2,"c":0.6},{"p":"FY","t":219.56,"a":0.15,"w":0.25,"c":0.7},{"p":"FY","t":220.1,"a":0.0,"w":0.2,"c":0.8},{"p":"FY","t":220.51,"a":-0.1,"w":0.25,"c":0.6},{"p":"FY","t":220.92,"a":0.0,"w":0.0,"c":0.55},{"p":"FY","t":221.46,"a":0.15,"w":0.1,"c":0.65},{"p":"FY","t":221.87,"a":0.2,"w":0.05,"c":0.75},{"p":"FY","t":222.28,"a":0.85,"w":0.7,"c":1.0},{"p":"FY","t":222.55,"a":0.88,"w":0.8,"c":1.6},{"p":"FY","t":222.68,"a":0.9,"w":0.85,"c":1.4},{"p":"FY","t":223.09,"a":0.95,"w":0.75,"c":1.2},{"p":"FY","t":223.63,"a":0.7,"w":0.7,"c":0.9},{"p":"FY","t":224.04,"a":0.2,"w":0.3,"c":0.7},{"p":"FY","t":224.45,"a":0.15,"w":0.1,"c":0.55},{"p":"FY","t":225.0,"a":0.1,"w":0.15,"c":0.42},{"p":"FY","t":225.54,"a":0.15,"w":0.1,"c":0.35},{"p":"FY","t":226.08,"a":0.05,"w":-0.2,"c":0.45},{"p":"FY","t":226.62,"a":0.2,"w":0.2,"c":0.5},{"p":"FY","t":227.17,"a":0.3,"w":0.25,"c":0.55},{"p":"FY","t":227.71,"a":0.2,"w":0.2,"c":0.65},{"p":"FY","t":228.12,"a":0.7,"w":0.5,"c":0.85},{"p":"FY","t":228.52,"a":1.1,"w":0.9,"c":1.1},{"p":"FY","t":228.93,"a":0.7,"w":0.5,"c":0.8},{"p":"FY","t":229.34,"a":0.2,"w":0.15,"c":0.6},{"p":"FY","t":229.88,"a":0.25,"w":0.2,"c":0.65},{"p":"FY","t":230.43,"a":0.3,"w":0.25,"c":0.55},{"p":"FY","t":230.97,"a":0.2,"w":0.15,"c":0.45},{"p":"FY","t":231.51,"a":0.15,"w":0.05,"c":0.4},{"p":"FY","t":232.06,"a":0.25,"w":0.2,"c":0.55},{"p":"FY","t":232.6,"a":0.3,"w":0.05,"c":0.6},{"p":"FY","t":233.14,"a":0.25,"w":0.15,"c":0.75},{"p":"FY","t":233.82,"a":0.15,"w":-0.05,"c":0.35},{"p":"FY","t":234.23,"a":0.7,"w":0.6,"c":0.8},{"p":"FY","t":234.5,"a":0.9,"w":0.9,"c":1.15},{"p":"FY","t":234.91,"a":0.6,"w":0.7,"c":1.0},{"p":"FY","t":235.32,"a":0.2,"w":0.1,"c":0.6},{"p":"FY","t":235.73,"a":0.15,"w":0.1,"c":0.45}
  ]
},
"spacing": 17,
"bounds": "flush",
"resolve": {"scale": {"color": "shared"}, "legend": {"color": "shared"}},
"vconcat": [
  {
    "width": 588, "height": 36,
    "data": {"name": "arrows"},
    "mark": {"type": "point", "shape": "M-0.24,1L0.24,1L0.24,-0.2L0.68,-0.2L0,-1L-0.68,-0.2L-0.24,-0.2Z", "filled": true, "color": "#231f20", "opacity": 1, "size": 625, "strokeWidth": 0},
    "encoding": {
      "x": {"field": "t", "type": "quantitative", "scale": {"domain": [188, 236], "nice": false, "zero": false}, "axis": null},
      "angle": {"field": "dir", "type": "quantitative", "scale": null}
    }
  },
  {
    "spacing": 0,
    "bounds": "flush",
    "resolve": {"scale": {"color": "shared"}, "legend": {"color": "shared"}},
    "vconcat": [
      {
        "width": 588, "height": 123,
        "title": {"text": "ECR", "subtitle": ["Within (vaf=0.80)", "Across (vaf=0.51)"], "dy": 137, "dx": -108, "align": "center", "anchor": "start", "frame": "group", "orient": "top"},
        "encoding": {"x": {"field": "t", "type": "quantitative", "scale": {"domain": [188, 236], "nice": false, "zero": false}, "axis": null}},
        "layer": [
          {"data": {"name": "bands"}, "mark": {"type": "rect", "color": "#e7ecec"}, "encoding": {"x2": {"field": "t2"}}},
          {"data": {"name": "sig"}, "transform": [{"filter": "datum.p == 'ECR'"}],
           "layer": [
            {"mark": {"type": "line", "strokeWidth": 2.7}, "encoding": {"y": {"field": "c", "type": "quantitative", "scale": {"domain": [-0.58, 3.11], "nice": false, "zero": false}, "axis": null}, "color": {"datum": "Across", "type": "nominal", "title": null, "scale": {"domain": ["Actual", "Within", "Across"], "range": ["#1a1a1a", "#e8161b", "#38cdee"]}}}},
            {"mark": {"type": "line", "strokeWidth": 2.7}, "encoding": {"y": {"field": "a", "type": "quantitative", "scale": {"domain": [-0.58, 3.11], "nice": false, "zero": false}, "axis": null}, "color": {"datum": "Actual", "type": "nominal", "title": null, "scale": {"domain": ["Actual", "Within", "Across"], "range": ["#1a1a1a", "#e8161b", "#38cdee"]}}}},
            {"mark": {"type": "line", "strokeWidth": 2.7}, "encoding": {"y": {"field": "w", "type": "quantitative", "scale": {"domain": [-0.58, 3.11], "nice": false, "zero": false}, "axis": null}, "color": {"datum": "Within", "type": "nominal", "title": null, "scale": {"domain": ["Actual", "Within", "Across"], "range": ["#1a1a1a", "#e8161b", "#38cdee"]}}}}
           ]}
        ]
      },
      {
        "width": 588, "height": 123,
        "title": {"text": "ECU", "subtitle": ["Within (vaf=0.86)", "Across (vaf=0.68)"], "dy": 134, "dx": -108, "align": "center", "anchor": "start", "frame": "group", "orient": "top"},
        "encoding": {"x": {"field": "t", "type": "quantitative", "scale": {"domain": [188, 236], "nice": false, "zero": false}, "axis": null}},
        "layer": [
          {"data": {"name": "bands"}, "mark": {"type": "rect", "color": "#e7ecec"}, "encoding": {"x2": {"field": "t2"}}},
          {"data": {"name": "sig"}, "transform": [{"filter": "datum.p == 'ECU'"}],
           "layer": [
            {"mark": {"type": "line", "strokeWidth": 2.7}, "encoding": {"y": {"field": "c", "type": "quantitative", "scale": {"domain": [-0.32, 3.37], "nice": false, "zero": false}, "axis": null}, "color": {"datum": "Across", "type": "nominal", "title": null, "scale": {"domain": ["Actual", "Within", "Across"], "range": ["#1a1a1a", "#e8161b", "#38cdee"]}}}},
            {"mark": {"type": "line", "strokeWidth": 2.7}, "encoding": {"y": {"field": "a", "type": "quantitative", "scale": {"domain": [-0.32, 3.37], "nice": false, "zero": false}, "axis": null}, "color": {"datum": "Actual", "type": "nominal", "title": null, "scale": {"domain": ["Actual", "Within", "Across"], "range": ["#1a1a1a", "#e8161b", "#38cdee"]}}}},
            {"mark": {"type": "line", "strokeWidth": 2.7}, "encoding": {"y": {"field": "w", "type": "quantitative", "scale": {"domain": [-0.32, 3.37], "nice": false, "zero": false}, "axis": null}, "color": {"datum": "Within", "type": "nominal", "title": null, "scale": {"domain": ["Actual", "Within", "Across"], "range": ["#1a1a1a", "#e8161b", "#38cdee"]}}}}
           ]}
        ]
      },
      {
        "width": 588, "height": 136,
        "title": {"text": "FCR", "subtitle": ["Within (vaf=0.50)", "Across (vaf=-3.28)"], "dy": 139, "dx": -108, "align": "center", "anchor": "start", "frame": "group", "orient": "top"},
        "encoding": {"x": {"field": "t", "type": "quantitative", "scale": {"domain": [188, 236], "nice": false, "zero": false}, "axis": null}},
        "layer": [
          {"data": {"name": "bands"}, "mark": {"type": "rect", "color": "#e7ecec"}, "encoding": {"x2": {"field": "t2"}}},
          {"data": {"name": "sig"}, "transform": [{"filter": "datum.p == 'FCR'"}],
           "layer": [
            {"mark": {"type": "line", "strokeWidth": 2.7}, "encoding": {"y": {"field": "c", "type": "quantitative", "scale": {"domain": [-0.15, 3.93], "nice": false, "zero": false}, "axis": null}, "color": {"datum": "Across", "type": "nominal", "title": null, "scale": {"domain": ["Actual", "Within", "Across"], "range": ["#1a1a1a", "#e8161b", "#38cdee"]}}}},
            {"mark": {"type": "line", "strokeWidth": 2.7}, "encoding": {"y": {"field": "a", "type": "quantitative", "scale": {"domain": [-0.15, 3.93], "nice": false, "zero": false}, "axis": null}, "color": {"datum": "Actual", "type": "nominal", "title": null, "scale": {"domain": ["Actual", "Within", "Across"], "range": ["#1a1a1a", "#e8161b", "#38cdee"]}}}},
            {"mark": {"type": "line", "strokeWidth": 2.7}, "encoding": {"y": {"field": "w", "type": "quantitative", "scale": {"domain": [-0.15, 3.93], "nice": false, "zero": false}, "axis": null}, "color": {"datum": "Within", "type": "nominal", "title": null, "scale": {"domain": ["Actual", "Within", "Across"], "range": ["#1a1a1a", "#e8161b", "#38cdee"]}}}}
           ]}
        ]
      },
      {
        "width": 588, "height": 137,
        "title": {"text": "Force X", "subtitle": ["Within (vaf=0.67)", "Across (vaf=-1.5)"], "dy": 125, "dx": -108, "align": "center", "anchor": "start", "frame": "group", "orient": "top"},
        "encoding": {"x": {"field": "t", "type": "quantitative", "scale": {"domain": [188, 236], "nice": false, "zero": false}, "axis": null}},
        "layer": [
          {"data": {"name": "bands"}, "mark": {"type": "rect", "color": "#e7ecec"}, "encoding": {"x2": {"field": "t2"}}},
          {"data": {"name": "sig"}, "transform": [{"filter": "datum.p == 'FX'"}],
           "layer": [
            {"mark": {"type": "line", "strokeWidth": 2.7}, "encoding": {"y": {"field": "c", "type": "quantitative", "scale": {"domain": [-1.56, 2.55], "nice": false, "zero": false}, "axis": null}, "color": {"datum": "Across", "type": "nominal", "title": null, "scale": {"domain": ["Actual", "Within", "Across"], "range": ["#1a1a1a", "#e8161b", "#38cdee"]}}}},
            {"mark": {"type": "line", "strokeWidth": 2.7}, "encoding": {"y": {"field": "a", "type": "quantitative", "scale": {"domain": [-1.56, 2.55], "nice": false, "zero": false}, "axis": null}, "color": {"datum": "Actual", "type": "nominal", "title": null, "scale": {"domain": ["Actual", "Within", "Across"], "range": ["#1a1a1a", "#e8161b", "#38cdee"]}}}},
            {"mark": {"type": "line", "strokeWidth": 2.7}, "encoding": {"y": {"field": "w", "type": "quantitative", "scale": {"domain": [-1.56, 2.55], "nice": false, "zero": false}, "axis": null}, "color": {"datum": "Within", "type": "nominal", "title": null, "scale": {"domain": ["Actual", "Within", "Across"], "range": ["#1a1a1a", "#e8161b", "#38cdee"]}}}}
           ]}
        ]
      },
      {
        "width": 588, "height": 96,
        "title": {"text": "Force Y", "subtitle": ["Within (vaf=0.89)", "Across (vaf=-0.95)"], "dy": 113, "dx": -108, "align": "center", "anchor": "start", "frame": "group", "orient": "top"},
        "encoding": {"x": {"field": "t", "type": "quantitative", "scale": {"domain": [188, 236], "nice": false, "zero": false},
          "axis": {"values": [190, 195, 200, 205, 210, 215, 220, 225, 230, 235], "labelExpr": "datum.value % 10 == 0 ? datum.label : ''", "title": "Time (s)", "titleFontSize": 28, "titleFontWeight": "normal", "titleColor": "#231f20", "titlePadding": 3, "labelFontSize": 25, "labelColor": "#231f20", "labelPadding": 11, "labelFlush": false, "labelOverlap": false, "domainColor": "#3a3a3a", "domainWidth": 3, "tickColor": "#3a3a3a", "tickWidth": 2.5, "tickSize": 9, "grid": false}}},
        "layer": [
          {"data": {"name": "bands"}, "mark": {"type": "rect", "color": "#e7ecec"}, "encoding": {"x2": {"field": "t2"}}},
          {"data": {"name": "sig"}, "transform": [{"filter": "datum.p == 'FY'"}],
           "layer": [
            {"mark": {"type": "line", "strokeWidth": 2.7}, "encoding": {"y": {"field": "c", "type": "quantitative", "scale": {"domain": [-1.44, 1.44], "nice": false, "zero": false}, "axis": null}, "color": {"datum": "Across", "type": "nominal", "title": null, "scale": {"domain": ["Actual", "Within", "Across"], "range": ["#1a1a1a", "#e8161b", "#38cdee"]}}}},
            {"mark": {"type": "line", "strokeWidth": 2.7}, "encoding": {"y": {"field": "a", "type": "quantitative", "scale": {"domain": [-1.44, 1.44], "nice": false, "zero": false}, "axis": null}, "color": {"datum": "Actual", "type": "nominal", "title": null, "scale": {"domain": ["Actual", "Within", "Across"], "range": ["#1a1a1a", "#e8161b", "#38cdee"]}}}},
            {"mark": {"type": "line", "strokeWidth": 2.7}, "encoding": {"y": {"field": "w", "type": "quantitative", "scale": {"domain": [-1.44, 1.44], "nice": false, "zero": false}, "axis": null}, "color": {"datum": "Within", "type": "nominal", "title": null, "scale": {"domain": ["Actual", "Within", "Across"], "range": ["#1a1a1a", "#e8161b", "#38cdee"]}}}}
           ]}
        ]
      }
    ]
  }
]
}
